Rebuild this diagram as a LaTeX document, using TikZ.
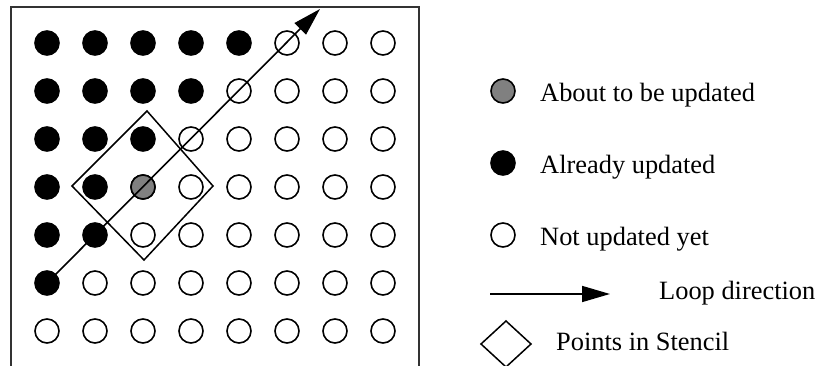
\documentclass[tikz,border=0pt]{standalone}
\usepackage{fontspec}
\setmainfont{Liberation Serif}
\usetikzlibrary{arrows.meta}
\definecolor{framegray}{HTML}{333333}
\definecolor{midgray}{HTML}{808080}
\tikzset{
  pt/.style={circle, draw=black, line width=1.6pt, minimum size=24pt, inner sep=0pt},
  done/.style={pt, fill=black},
  next/.style={pt, fill=midgray},
  todo/.style={pt, fill=white},
  lbl/.style={anchor=base west, inner sep=0pt, font=\fontsize{26.4}{30}\selectfont},
  looparrow/.style={line width=1.6pt, -{Triangle[length=28pt,width=16pt]}},
}
\begin{document}
\begin{tikzpicture}[x=1pt,y=-1pt]
\useasboundingbox (0,0) rectangle (820,366);
% frame
\draw[framegray, line width=2pt] (11,367) -- (11,7) -- (419,7) -- (419,367);
% grid of points
\foreach \r/\n in {0/5,1/4,2/3,3/2,4/2,5/1,6/0}{
  \foreach \c in {0,...,7}{
    \pgfmathtruncatemacro{\isdone}{\c<\n ? 1 : 0}
    \ifnum\isdone=1
      \node[done] (c-\r-\c) at ({47+48*\c},{43+48*\r}) {};
    \else
      \node[todo] (c-\r-\c) at ({47+48*\c},{43+48*\r}) {};
    \fi
  }
}
\node[next] (c-3-2b) at (c-3-2) {};
% stencil
\coordinate (st-t) at (147,111);
\coordinate (st-r) at (213,186);
\coordinate (st-b) at (144,260);
\coordinate (st-l) at (72,186);
\draw[line width=1.5pt] (st-t) -- (st-r) -- (st-b) -- (st-l) -- cycle;
% loop direction arrow
\coordinate (tip) at (320,9);
\draw[looparrow] (c-5-0.center) -- (tip);
% legend
\node[next] (lg-next) at (503,91) {};
\node[lbl] (tx-next) at (540,102) {About to be updated};
\node[done] (lg-done) at (503,163) {};
\node[lbl] (tx-done) at (540,174) {Already updated};
\node[todo] (lg-todo) at (503,235) {};
\node[lbl] (tx-todo) at (540,246) {Not updated yet};
\coordinate (la-s) at (490,294);
\coordinate (la-e) at (610,294);
\draw[looparrow] (la-s) -- (la-e);
\node[lbl] (tx-loop) at (659,300) {Loop direction};
\coordinate (ld-t) at (506,321);
\coordinate (ld-r) at (531,344);
\coordinate (ld-b) at (506,367);
\coordinate (ld-l) at (481,344);
\draw[line width=1.5pt] (ld-t) -- (ld-r) -- (ld-b) -- (ld-l) -- cycle;
\node[lbl] (tx-st) at (556,351) {Points in Stencil};
\end{tikzpicture}
\end{document}
